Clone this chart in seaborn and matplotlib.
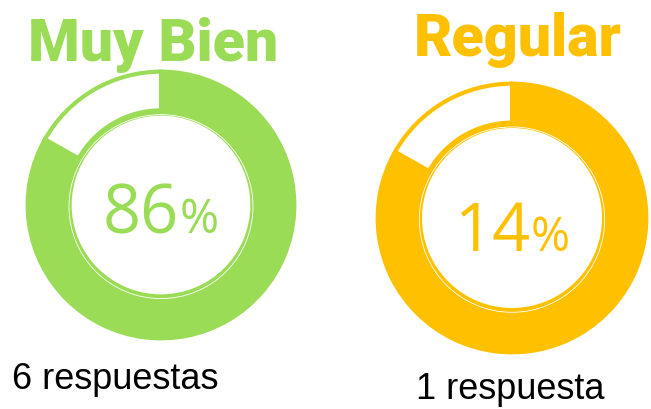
import matplotlib
matplotlib.use("Agg")
import matplotlib.pyplot as plt
import seaborn as sns

# values
labels = ["Muy Bien", "Regular"]
percents = [86, 14]
counts = [6, 1]
count_words = ["respuestas", "respuesta"]
ring_share = [83.2, 16.8]  # both rings show the same filled share in the picture
colors = ["#9ADC55", "#FFC000"]

sns.set_theme(style="white")
plt.rcParams["font.family"] = ["Liberation Sans", "DejaVu Sans"]

W, H = 651, 409
fig = plt.figure(figsize=(W / 100, H / 100), dpi=100)
fig.patch.set_facecolor("white")

# pixel canvas for the texts
bg = fig.add_axes([0, 0, 1, 1])
bg.set_xlim(0, W)
bg.set_ylim(H, 0)
bg.axis("off")

centers = [(161, 205), (512, 218)]
radii = [136, 137]

title_pos = [(153.5, 61), (517.5, 56)]
num_pos = [(179, 233), (530, 251)]
count_pos = [(12, 389, "left"), (510, 399, "center")]

for i, lab in enumerate(labels):
    cx, cy = centers[i]
    r = radii[i]
    col = colors[i]
    ax = fig.add_axes([(cx - r) / W, (H - cy - r) / H, 2 * r / W, 2 * r / H])
    ax.pie(ring_share, colors=[col, "white"], startangle=90, counterclock=False,
           radius=1.0, wedgeprops=dict(width=0.29, edgecolor=col, linewidth=3))
    ax.pie([1], colors=[col], radius=0.71, wedgeprops=dict(width=0.04, linewidth=0))
    ax.add_patch(plt.Circle((0, -0.012), 0.69, fill=False, ec="white", lw=0.6))
    ax.set_xlim(-1.02, 1.02)
    ax.set_ylim(-1.02, 1.02)
    ax.set_aspect("equal")
    ax.axis("off")

    tx, ty = title_pos[i]
    bg.text(tx, ty, lab, color=col, fontsize=42.5, fontweight="heavy",
            family=["Roboto", "DejaVu Sans"], ha="center", va="baseline")

    nx, ny = num_pos[i]
    bg.text(nx, ny, str(percents[i]), color=col, fontsize=48, fontweight="normal",
            family=["Open Sans", "DejaVu Sans"], ha="right", va="baseline")
    bg.text(nx + 1, ny, "%", color=col, fontsize=34, fontweight="normal",
            family=["Open Sans", "DejaVu Sans"], ha="left", va="baseline")

    px, py, pha = count_pos[i]
    bg.text(px, py, f"{counts[i]} {count_words[i]}", color="black", fontsize=26,
            ha=pha, va="baseline")

fig.savefig("out.png", dpi=100, facecolor="white")
